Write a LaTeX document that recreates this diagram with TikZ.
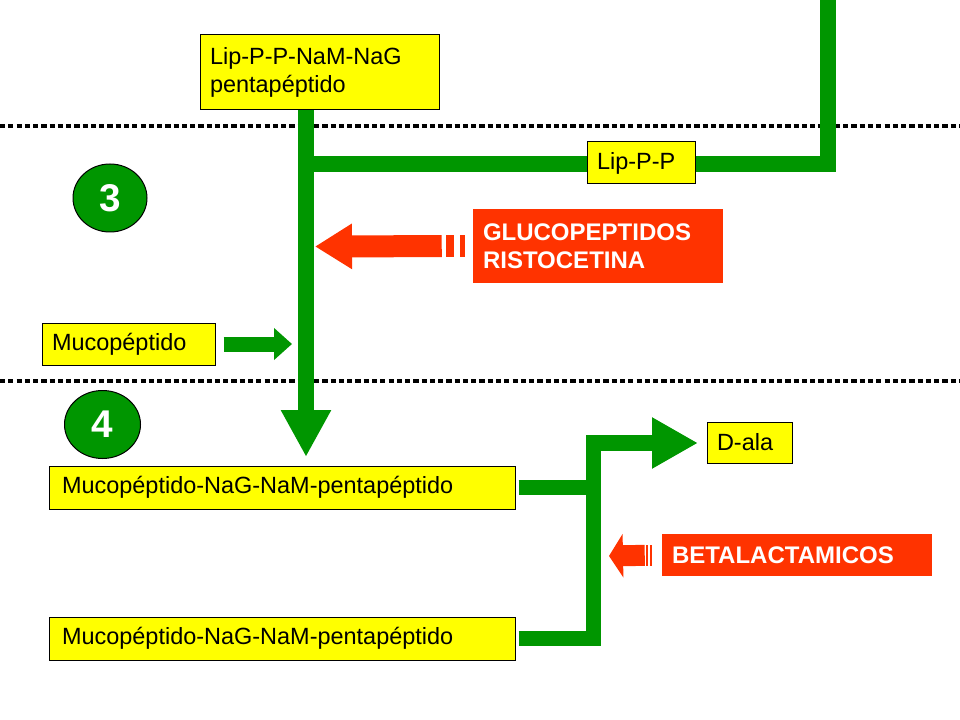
\documentclass[tikz,border=0pt]{standalone}
\usepackage{fontspec}
\setmainfont{Liberation Sans}
\usetikzlibrary{arrows.meta,shapes.geometric,calc}
\definecolor{gr}{RGB}{0,150,0}
\definecolor{rd}{RGB}{255,51,0}
\definecolor{yl}{RGB}{255,255,0}
\pgfdeclarelayer{bg}
\pgfsetlayers{bg,main}
\begin{document}
\begin{tikzpicture}[x=0.75pt,y=-0.75pt,
  ybox/.style={draw=black, line width=0.75pt, fill=yl, text=black,
    font=\fontsize{17.6}{21}\selectfont, align=left, inner xsep=7.5pt, inner ysep=0pt},
  rbox/.style={fill=rd, text=white, font=\fontsize{18}{21}\selectfont\bfseries,
    align=left, inner xsep=7.5pt, inner ysep=0pt},
  numc/.style={ellipse, draw=black, line width=0.75pt, fill=gr, text=white,
    font=\fontsize{29}{29}\selectfont\bfseries, inner sep=0pt},
  gline/.style={draw=gr, line width=12pt, line join=miter},
  gline2/.style={draw=gr, line width=11.5pt, line join=miter},
  rline/.style={draw=rd, line width=16.5pt},
  dotline/.style={draw=black, line width=3pt, dash pattern=on 3.9pt off 2.3pt}
]
\useasboundingbox (0,0) rectangle (960,720);

% nodes
\node[ybox, text width=164.25pt, minimum height=56.25pt] (lip) at (319.5,72.5)
  {Lip-P-P-NaM-NaG\\pentapéptido};
\node[ybox, text width=66pt, minimum height=31.5pt] (lipp) at (641,163) {Lip-P-P};
\node[rbox, text width=172.5pt, minimum height=55.5pt] (glu) at (598,246)
  {GLUCOPEPTIDOS\\RISTOCETINA};
\node[ybox, text width=114.75pt, minimum height=31.5pt] (muc0) at (128.5,344) {Mucopéptido};
\node[ybox, inner xsep=9.75pt, text width=330pt, minimum height=32.25pt] (muc1) at (282,487.5)
  {Mucopéptido-NaG-NaM-pentapéptido};
\node[ybox, inner xsep=9.75pt, text width=330pt, minimum height=32.25pt] (muc2) at (282,638.5)
  {Mucopéptido-NaG-NaM-pentapéptido};
\node[ybox, text width=48.75pt, minimum height=30.75pt] (dala) at (749.5,442.5) {D-ala};
\node[rbox, text width=187.5pt, minimum height=31.5pt] (beta) at (797,555) {BETALACTAMICOS};
\node[numc, minimum width=55.5pt, minimum height=51pt] (n3) at (110,198) {3};
\node[numc, minimum width=57pt, minimum height=51pt] (n4) at (102.5,424.5) {4};

% coordinates
\coordinate (vtip) at (306,457);
\coordinate (vjoin) at (306,164);
\coordinate (rtop) at (827.5,0);
\coordinate (mtip) at (292,344);
\coordinate (jtop) at (593.5,443);
\coordinate (dtip) at (698,443);
\coordinate (gtip) at (315,246.5);
\coordinate (btip) at (609,556);

\begin{pgfonlayer}{bg}
  \draw[dotline] (0,126) -- (960,126);
  \draw[dotline] (0,381) -- (960,381);
  % main vertical
  \draw[gline, -{Triangle[length=35.25pt,width=35.25pt]}] (lip.south -| vtip) -- (vtip);
  % branch from the top right
  \draw[gline] (rtop) |- (vjoin);
\end{pgfonlayer}

% mucopeptido arrow
\draw[draw=gr, line width=11.25pt, shorten <=6pt, -{Triangle[length=13.5pt,width=23.25pt]}]
  (muc0.east) -- (mtip);
% lower branches
\draw[gline2, shorten <=2.25pt, -{Triangle[length=34.5pt,width=36pt]}]
  (muc2.east) -| (jtop) -- (dtip);
\draw[gline2, shorten <=2.25pt] (muc1.east) -- (muc1.east -| jtop);

% red inhibition arrows
\draw[rline, shorten <=23.25pt, -{Triangle[length=27.75pt,width=32.25pt]}] (glu.west) -- (gtip);
\fill[rd] ($(glu.west)+(-27,-11)$) rectangle ($(glu.west)+(-19,11)$);
\fill[rd] ($(glu.west)+(-13,-11)$) rectangle ($(glu.west)+(-8,11)$);
\draw[draw=rd, line width=15.75pt, shorten <=12.75pt, -{Triangle[length=10.5pt,width=32.25pt]}]
  (beta.west) -- (btip);
\fill[rd] ($(beta.west)+(-15.5,-10.5)$) rectangle ($(beta.west)+(-13.5,10.5)$);
\fill[rd] ($(beta.west)+(-12,-10.5)$) rectangle ($(beta.west)+(-10,10.5)$);
\end{tikzpicture}
\end{document}
